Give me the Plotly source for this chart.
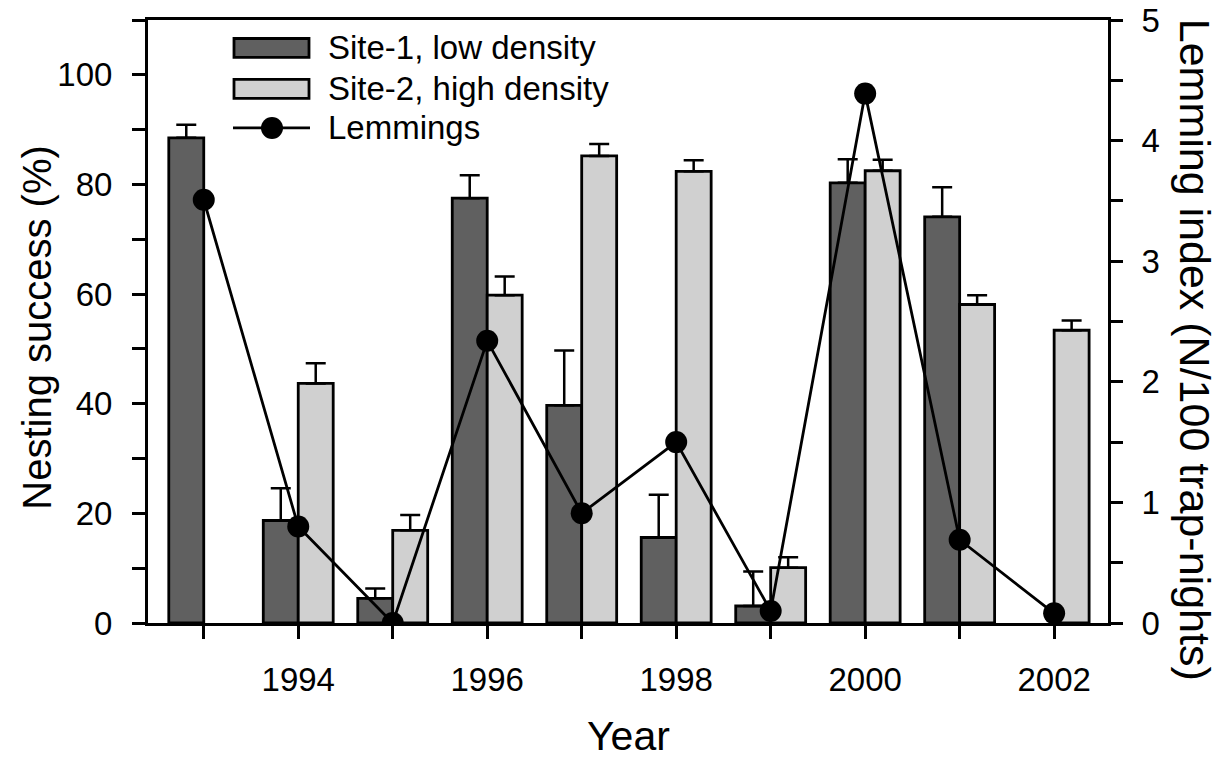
import plotly.graph_objects as go

# ---- data ----
years = [1993, 1994, 1995, 1996, 1997, 1998, 1999, 2000, 2001, 2002]
site1 = [88.5, 18.7, 4.5, 77.5, 39.7, 15.6, 3.1, 80.3, 74.1, None]
site1_err = [2.4, 5.9, 1.8, 4.2, 10.0, 7.8, 6.3, 4.3, 5.4, 0]
site2 = [None, 43.7, 16.9, 59.8, 85.2, 82.4, 10.1, 82.5, 58.1, 53.4]
site2_err = [0, 3.7, 2.8, 3.4, 2.2, 2.0, 1.9, 2.0, 1.7, 1.8]
lemmings = [3.51, 0.80, 0.0, 2.34, 0.91, 1.50, 0.10, 4.39, 0.69, 0.08]
tick_labels = ["", "1994", "", "1996", "", "1998", "", "2000", "", "2002"]

names = ["Site-1, low density", "Site-2, high density", "Lemmings"]
DARK = "#606060"
LIGHT = "#d0d0d0"
FONT = "Liberation Sans, Arial, sans-serif"

W, H = 1222, 761
L, R, T, B = 148, 1108, 20, 623.5
BW = 0.37

fig = go.Figure()
fig.add_trace(go.Bar(
    x=years, y=site1, width=BW, offset=-BW, name=names[0],
    marker=dict(color=DARK, line=dict(color="black", width=2.8)),
    error_y=dict(type="data", symmetric=False, array=site1_err,
                 arrayminus=[0] * len(years), color="black",
                 thickness=2.5, width=10),
    showlegend=False,
))
fig.add_trace(go.Bar(
    x=years, y=site2, width=BW, offset=0, name=names[1],
    marker=dict(color=LIGHT, line=dict(color="black", width=2.8)),
    error_y=dict(type="data", symmetric=False, array=site2_err,
                 arrayminus=[0] * len(years), color="black",
                 thickness=2.5, width=10),
    showlegend=False,
))
fig.add_trace(go.Scatter(
    x=years, y=lemmings, yaxis="y2", mode="lines+markers", name=names[2],
    line=dict(color="black", width=2.8),
    marker=dict(color="black", size=22, symbol="circle"),
    showlegend=False,
))

tickfont = dict(family=FONT, size=33, color="black")

fig.update_layout(
    width=W, height=H,
    margin=dict(l=L, r=W - R, t=T, b=H - B, pad=0),
    paper_bgcolor="white", plot_bgcolor="white",
    template="none",
    barmode="overlay",
    showlegend=False,
    xaxis=dict(
        range=[1992.41, 2002.57],
        tickmode="array", tickvals=years, ticktext=tick_labels,
        ticks="outside", ticklen=13, tickwidth=2.5, tickcolor="black",
        showline=True, linecolor="black", linewidth=3, mirror=True,
        showgrid=False, zeroline=False, tickfont=tickfont,
        ticklabelstandoff=12,
    ),
    yaxis=dict(
        range=[0, 110], tickmode="array", tickvals=[0, 20, 40, 60, 80, 100],
        ticks="outside", ticklen=13, tickwidth=2.5, tickcolor="black",
        minor=dict(tickvals=[10, 30, 50, 70, 90, 110], ticks="outside",
                   ticklen=13, tickwidth=2.5, tickcolor="black", showgrid=False),
        showline=True, linecolor="black", linewidth=3,
        showgrid=False, zeroline=False, tickfont=tickfont,
        ticklabelstandoff=13,
    ),
    yaxis2=dict(
        range=[0, 5.0005], overlaying="y", side="right",
        tickmode="array", tickvals=[0, 1, 2, 3, 4, 5],
        ticks="outside", ticklen=12, tickwidth=2.5, tickcolor="black",
        minor=dict(tickvals=[0.5, 1.5, 2.5, 3.5, 4.5], ticks="outside",
                   ticklen=12, tickwidth=2.5, tickcolor="black", showgrid=False),
        showline=True, linecolor="black", linewidth=3,
        showgrid=False, zeroline=False, tickfont=tickfont,
        ticklabelstandoff=12,
    ),
)


def px(xs):
    return (xs - L) / (R - L)


def py(ys):
    return (B - ys) / (B - T)


fig.add_annotation(text="Nesting success (%)", xref="paper", yref="paper",
                   x=px(37), y=py(328), textangle=-90, showarrow=False,
                   font=dict(family=FONT, size=40, color="black"),
                   xanchor="center", yanchor="middle")
fig.add_annotation(text="Lemming index (N/100 trap-nights)", xref="paper", yref="paper",
                   x=px(1195), y=py(350), textangle=90, showarrow=False,
                   font=dict(family=FONT, size=43, color="black"),
                   xanchor="center", yanchor="middle")
fig.add_annotation(text="Year", xref="paper", yref="paper",
                   x=px(628), y=py(737), showarrow=False,
                   font=dict(family=FONT, size=41, color="black"),
                   xanchor="center", yanchor="middle")

# ---- legend (swatches + real text) ----
leg_font = dict(family=FONT, size=33, color="black")
rows = [48, 89, 128]
for color, yc in [(DARK, rows[0]), (LIGHT, rows[1])]:
    fig.add_shape(type="rect", xref="paper", yref="paper",
                  x0=px(234), x1=px(309), y0=py(yc - 9.5), y1=py(yc + 9.5),
                  fillcolor=color, line=dict(color="black", width=2.8))
fig.add_shape(type="line", xref="paper", yref="paper",
              x0=px(233), x1=px(310), y0=py(rows[2]), y1=py(rows[2]),
              line=dict(color="black", width=2.8))
fig.add_shape(type="circle", xref="paper", yref="paper",
              x0=px(261), x1=px(283), y0=py(rows[2] - 11), y1=py(rows[2] + 11),
              fillcolor="black", line=dict(color="black", width=0))
for name, yc in zip(names, rows):
    fig.add_annotation(text=name, xref="paper", yref="paper",
                       x=px(326), y=py(yc), showarrow=False, font=leg_font,
                       xanchor="left", yanchor="middle")

fig.write_html("out.html",
               config={"displayModeBar": False},
               post_script="document.body.style.margin='0px';"
                           "document.body.style.overflow='hidden';")
